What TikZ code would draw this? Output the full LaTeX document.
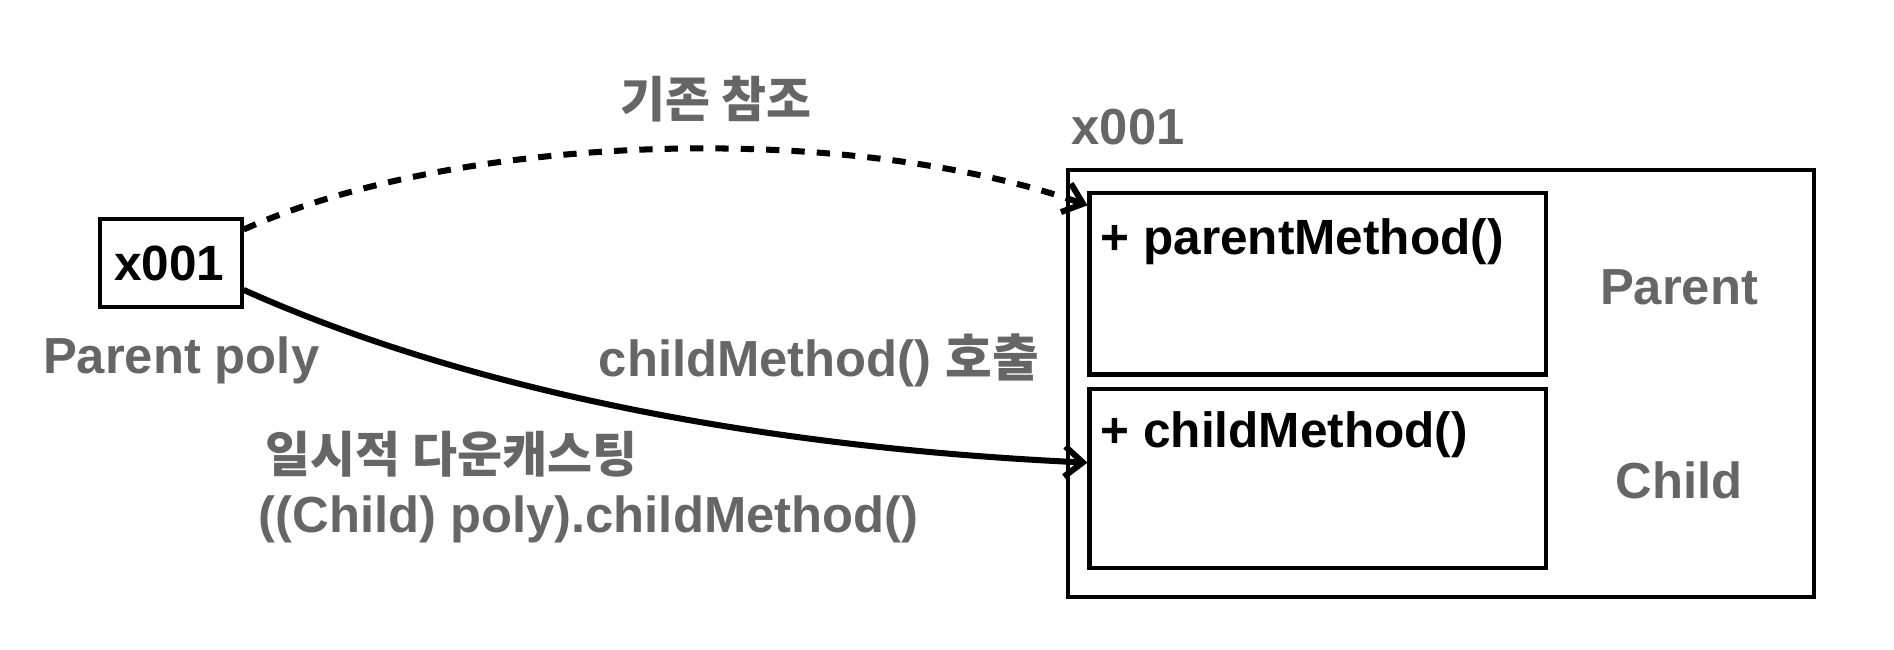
\documentclass[tikz,border=0pt]{standalone}
\usepackage{fontspec}
\setmainfont{Liberation Sans}
\newfontfamily\kr{Noto Sans CJK KR}
\usetikzlibrary{arrows.meta}
\definecolor{lbl}{HTML}{666666}
\begin{document}
\begin{tikzpicture}[x=1pt,y=-1pt,
  box/.style={draw=black,line width=3.4pt},
  blk/.style={font=\fontsize{41}{47}\selectfont\bfseries,text=black,inner sep=0pt},
  gry/.style={font=\fontsize{42}{48}\selectfont\bfseries,text=lbl,inner sep=0pt},
  kor/.style={gry,font=\fontsize{40.5}{47}\selectfont\bfseries\kr},
  conn/.style={line width=5pt,-{Straight Barb[length=15pt,width=25pt,line width=5pt]}}]
\useasboundingbox (0,0) rectangle (1568,538);
% left reference box
\node[box,minimum width=117pt,minimum height=73pt,inner sep=0pt] (ref) at (141.5,217.5) {};
\node[blk] (reftxt) at (140,218) {x001};
\node[gry] (poly) at (150,298) {Parent poly};
% object
\draw[box] (884,141) rectangle (1502,494);
\node[box,minimum width=378pt,minimum height=150pt,inner sep=0pt] (pbox) at (1091,235) {};
\node[box,minimum width=378pt,minimum height=148pt,inner sep=0pt] (cbox) at (1091,396) {};
\node[blk,anchor=west] (pm) at (911,200) {+ parentMethod()};
\node[blk,anchor=west] (cm) at (911,360) {+ childMethod()};
\node[gry] (pl) at (1390,238) {Parent};
\node[gry] (cl) at (1390,398) {Child};
\node[gry,anchor=west] (addr) at (887,105) {x001};
% labels
\node[kor] (old) at (593,82) {기존 참조};
\node[gry] (call) at (678,298) {childMethod() {\kr 호출}};
\node[kor,anchor=west] (down) at (220,376) {일시적 다운캐스팅};
\node[gry,anchor=west] (expr) at (214,430) {((Child) poly).childMethod()};
% connectors
\coordinate (a1) at (ref.east |- 0,190);
\coordinate (b1) at (pbox.west |- 0,170);
\coordinate (a2) at (ref.east |- 0,240);
\coordinate (b2) at (cbox.west |- 0,383);
\draw[conn,dash pattern=on 11pt off 10pt] (a1) .. controls (380,110) and (700,100) .. (b1);
\draw[conn] (a2) .. controls (380,320) and (620,370) .. (b2);
\end{tikzpicture}
\end{document}
